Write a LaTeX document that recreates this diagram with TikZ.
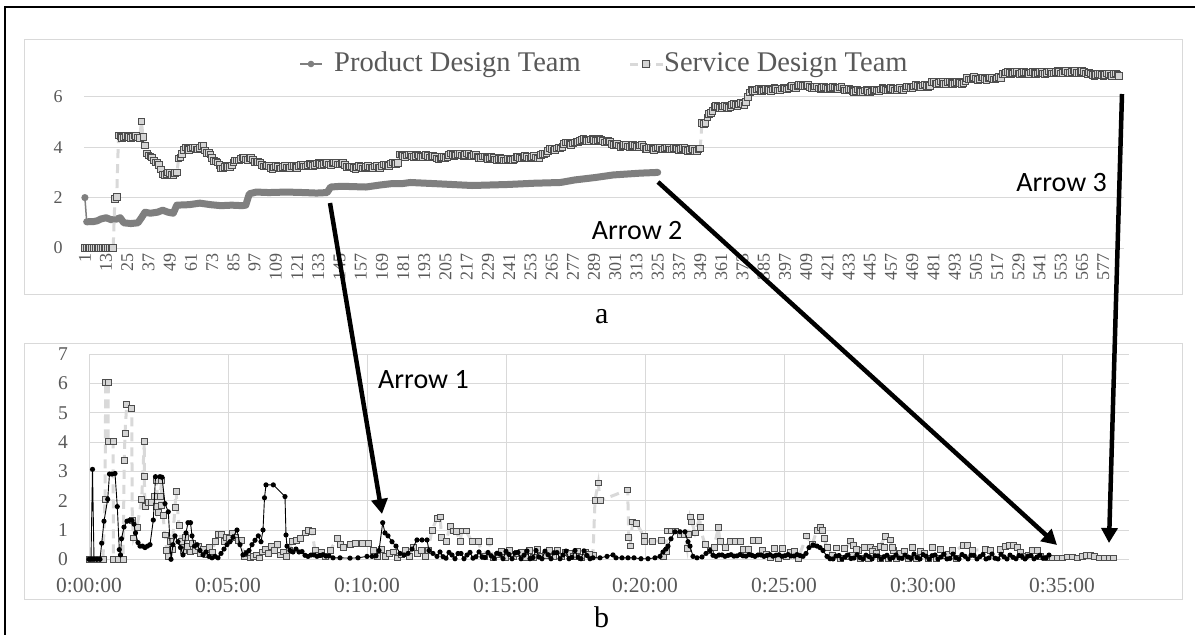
\documentclass[tikz,border=0pt]{standalone}
\usepackage{fontspec}
\setmainfont{Liberation Serif}
\newfontfamily\arrfont{Carlito}
\usetikzlibrary{arrows.meta}
\definecolor{gridc}{HTML}{D9D9D9}
\definecolor{axtxt}{HTML}{595959}
\definecolor{prodc}{HTML}{7F7F7F}
\definecolor{sqfill}{HTML}{D4D4D4}
\definecolor{sqdraw}{HTML}{4D4D4D}
\definecolor{dashc}{HTML}{D9D9D9}

\def\servA{1/0,17/0,18/2,19/2,20/4.42,32/4.42,33/5.0,34/4.35,36/3.8,38/3.6,40/3.5,42/3.4,44/3.1,45/2.95,53/2.95,54/3.55,56/3.75,58/3.95,66/3.95,68/4.05,70/3.8,73/3.6,76/3.35,78/3.2,82/3.22,84/3.3,87/3.5,89/3.55,94/3.55,99/3.4,101/3.3,106/3.2,117/3.2,122/3.25,128/3.3,135/3.35,145/3.35,148/3.3,151/3.2,165/3.2,173/3.3,178/3.4,179/3.68,196/3.65,202/3.55,208/3.7,219/3.7,225/3.6,241/3.5,247/3.6,258/3.6,261/3.75,264/3.9,270/3.95,272/4.15,278/4.15,281/4.29,292/4.29,298/4.2,301/4.1,304/4.05,315/4.05,320/3.95,338/3.95,343/3.9,349/3.9,350/4.95,352/5.0,354/5.28,357/5.6,366/5.6,369/5.7,374/5.7,378/6.27,394/6.3,408/6.47,411/6.4,417/6.35,428/6.35,434/6.25,445/6.22,451/6.3,462/6.3,468/6.4,479/6.45,480/6.56,499/6.56,500/6.73,519/6.73,520/6.95,541/6.95,560/7.0,569/6.95,570/6.88,586/6.88}
\def\prodA{2/1.04,6/1.05,8/1.08,10/1.15,13/1.2,16/1.12,19/1.15,21/1.2,23/1.0,27/0.97,31/1.0,33/1.2,35/1.42,38/1.38,42/1.42,45/1.5,48/1.42,51/1.38,53/1.7,60/1.72,66/1.78,72/1.72,78/1.68,84/1.7,90/1.68,92/1.7,94/2.15,98/2.22,105/2.2,115/2.22,125/2.2,132/2.18,138/2.2,140/2.42,146/2.45,160/2.42,168/2.5,174/2.55,180/2.55,185/2.6,200/2.55,220/2.48,240/2.52,255/2.57,270/2.6,278/2.7,290/2.8,300/2.9,315/2.97,325/3.0}

\def\pBa{91/0,92.5/3.07,94/0,97/0,100/0,101.7/0.55,104/1.3,107.7/2.05,109.5/2.91,112/2.91,115/2.93,117.3/1.8,119.3/0.33,120.5/0.15,121.5/0.7,124/1.1,127/1.3,129.5/1.33,132/1.33,134/1.2,135.5/0.9,138/0.57,140/0.45,142.5/0.45,145/0.4,147.5/0.45,150/0.5,153.3/1.34,155.5/2.82,160/2.82,162/2.8,165/1.9,168.3/1.62,171/0,173/0.5,175/0.8,178/0.6,180.5/0.4,183/0.15,186/0.9,188/1.25,190.5/1.25,192/0.8,194.5/0.45,197/0.5,200/0.3,203/0.15,206/0.25,209/0.1,212/0.05,215/0.1,218/0.05,221/0.2,224/0.35,227/0.5,230/0.6,233/0.75,237/1.0,240/0.5,243/0.15,246/0.2,249/0.3,252/0.5,255/0.65,258.3/0.8,261/0.6,263/1.0,264.5/2.1,266/2.54,273.3/2.54,285/2.14,286/0.83,287/0.45,290/0.3,293/0.25,296/0.35,299/0.25}
\def\pBb{333/0.05,340/0.05,350/0.04,358/0.05,367/0.1,372/0.1,376/0.12,379/0.3,382.7/1.25,385/0.9,388/0.8,392/0.6,396/0.45,400/0.2,404/0.15,408/0.2,412/0.35,417/0.66,422/0.66,427/0.66,429/0.3,433/0.2,437/0.1}
\def\pBc{593/0.05,600/0.05,607/0.1,613/0.15,616/0.05,622/0.05,628/0.05,634/0.05,641/0.02,648/0.02,655/0.05,660/0.1,663/0.25,666/0.35,668/0.45,671/0.7,675/0.94,680/0.94,685/0.94,688/0.6,690/0.45,693/0.1,697/0.05,702/0.08,706/0.2,710/0.3}
\def\pBd{806/0.2,809/0.4,813/0.49,817/0.45,820/0.4,823/0.3,827/0.1,830/0.02}
\def\sBa{92/0,95/0,99/0,103/0,105/2.05,105.7/6.03,108.3/6.03,108/4.03,113/4.03,113.5/0,118/0,123/0,124.3/3.37,125/4.3,126.7/5.29,131.7/5.15,132.3/1.34,133.5/0.73,137/1.1,141.7/2.05,144.3/4.03,144.3/2.84,145/1.8,148/1.95,151.7/1.95,154/2.14,156/1.8,156.7/2.7,158/1.6,160/2.14,161.7/2.7,161.7/1.85,163/1.5,165/0.83,166.7/0.3,168/0.1,170/0.6,172/0.35,175/1.78,176/2.31,179/1.17,181/0.6,183/0.3,185/0.75,187/0.45,190/0.25,192/0.55,195/0.3,198/0.45,200/0.2,203/0.35,206/0.15,209/0.4,212/0.25,215/0.6,218/0.85,221/0.85,224/0.6,226/0.75,229/0.7,232/0.9,235/0.75,238/0.65,241/0.65,244/0.1,247/0.2,250/0.05,253/0.1,256/0.15,259/0.05,262/0.25,265/0.35,268/0.2,271/0.45,274/0.3,277/0.5,280/0.15,283/0.25,286/0.1,289/0.3,292/0.6,296/0.65,300/0.7,305/0.9,308/1.0,312/0.95,315/0.3,318/0.15,321/0.25,325/0.1,330/0.3,337/0.7,340/0.5,343/0.4,350/0.5,355/0.55,362/0.55,368/0.55,373/0.3,377/0.1,381/0.35,385/0.1,389/0.2,393/0.25,397/0.05,401/0.15,405/0.3,409/0.1,413/0.4,417/0.2,421/0.3,425/0.1,428/0.3,432/1.0,437/1.4,440/1.45,441.7/0.76,446/0.6,450/1.13,453/0.97,456.7/0.94,460/0.6,462/0.97,466/0.97,472/0.6,478/0.6,484/0.1,489/0.6,493/0.05}
\def\sBb{593/0.15,595/2.02,598.3/2.61,600/2.0,627.7/2.37,628.7/0.75,630/0.46,632.7/1.28,636.7/1.22,644/0.78,644/0.62,652/0.6,661.7/0.64,663/0.1,666/0.26,667/0.97,671/0.97,675/0.97,680/0.85,684/0.85,687/0.37,688/0.85,690/1.45,691.7/1.28,695/0.9,700/1.45,700/1.09,705/0.5,710/0.3,714/0.4,718.3/1.08,720/0.6,725/0.4,730/0.62,735/0.62,740/0.62,743/0.35,748/0.35,753/0.64,758/0.64,762/0.3}
\def\sBc{806.7/0.8,812/0.5,817/1.0,820/1.1,822/0.98,824/0.7,827/0.4,832/0.15}
\def\sBd{850/0.63,853/0.47,858/0.3,870/0.4,875/0.35,880/0.45,885/0.77,890/0.66,893/0.3}
\def\sBe{963/0.48,967/0.48,972/0.3,985/0.35,990/0.3,1000/0.35,1005/0.45,1009/0.48,1013/0.48,1017/0.4,1020/0.25,1024/0.1,1028/0.15,1032/0.3,1037/0.3,1040/0.1,1047/0.05,1052/0.05,1057/0.05,1062/0.05,1067/0.08,1072/0.08,1077/0.05,1082/0.1,1086/0.12,1090/0.12,1094/0.1,1099/0.05,1104/0.05,1109/0.05,1113/0.05}

\newcommand\dashser[3]{\draw[dashB] (#2,{559.3-29.3*#3}) foreach \x/\v in #1 { -- (\x,{559.3-29.3*\v}) };}
\newcommand\sqser[1]{\foreach \x/\v in #1 {\pgfmathsetmacro\yy{559.3-29.3*\v}\path[sqB] (\x-2.9,\yy-2.9) rectangle (\x+2.9,\yy+2.9);}}
\newcommand\dotser[1]{\foreach \x/\v in #1 {\fill (\x,{559.3-29.3*\v}) circle (2.6);}}

\begin{document}
\begin{tikzpicture}[x=1pt,y=-1pt,
  declare function={nzp(\x)=max(0.02,0.13+0.1*sin(37*mod(\x,97))+0.07*sin(83*mod(\x,101)+40));
                    nzs(\x)=max(0.03,0.18+0.14*sin(53*mod(\x,89))+0.1*sin(127*mod(\x,79)+20));},
  gridl/.style={gridc,line width=1},
  sqA/.style={fill=sqfill,draw=sqdraw,line width=0.8},
  sqB/.style={fill=sqfill,draw=sqdraw,line width=0.8},
  dashB/.style={dashc,line width=3,dash pattern=on 9pt off 6pt},
  prodband/.style={prodc,line width=7,line join=round,line cap=round},
  pline/.style={black,line width=0.9,line join=round},
  axA/.style={font=\fontsize{18}{18}\selectfont,text=axtxt,inner sep=0},
  axB/.style={font=\fontsize{19.5}{19.5}\selectfont,text=axtxt,inner sep=0},
  axT/.style={font=\fontsize{21.5}{21.5}\selectfont,text=axtxt,inner sep=0},
  legtxt/.style={font=\fontsize{28.5}{28.5}\selectfont,text=axtxt,inner sep=0,anchor=west},
  captxt/.style={font=\fontsize{30}{30}\selectfont,inner sep=0},
  arrlab/.style={font=\arrfont\fontsize{28}{28}\selectfont,inner sep=0},
  bigarrow/.style={line width=4.5,-{Triangle[length=15pt,width=16pt]}}]
\useasboundingbox (0,0) rectangle (1195,635);
\fill[white] (0,0) rectangle (1195,635);
\draw[line width=1.3] (5,635) -- (5,7) -- (1195,7);

% ---------- chart a ----------
\draw[gridl] (24,39) rectangle (1182,294);
\foreach \v in {0,2,4,6} {
  \draw[gridl] (84,{248-25.2*\v}) -- (1124,{248-25.2*\v});
  \node[axA] (ya\v) at (58,{248-25.2*\v}) {\v};
}
\foreach \k in {0,...,48} {
  \pgfmathtruncatemacro\lab{1+12*\k}
  \node[axA,rotate=90,anchor=east] (xa\k) at ({84+(\lab-0.5)*1.768},253) {\lab};
}
% legend
\draw[prodc,line width=1.5] (300,64) -- (322,64);
\fill[prodc] (311,64) circle (3.3);
\node[legtxt] (lg1) at (334,65) {Product Design Team};
\draw[dashc,line width=3,dash pattern=on 8pt off 5pt] (630,64) -- (663,64);
\path[sqA] (642.7,60.7) rectangle (649.3,67.3);
\node[legtxt] (lg2) at (664,65) {Service Design Team};
% product a
\draw[prodc,line width=1.5] (84.9,197.6) -- (86.7,221.8);
\fill[prodc] (84.9,197.6) circle (3.6);
\draw[prodband] (86.7,221.8) foreach \i/\v in \prodA { -- ({84+(\i-0.5)*1.768},{248-25.2*\v}) };
% service a
\draw[dashB] (84.9,248) foreach \i/\v in \servA { -- ({84+(\i-0.5)*1.768},{248-25.2*\v}) };
\foreach \i/\v [remember=\i as \ip (initially 0), remember=\v as \vp (initially 0)] in \servA {
  \pgfmathtruncatemacro\ia{\ip+1}
  \foreach \k in {\ia,...,\i} {
    \pgfmathsetmacro\vk{\vp+(\v-\vp)*(\k-\ip)/max(1,\i-\ip)}
    \pgfmathsetmacro\yy{248-25.2*(\vk+(\vk>1)*0.05*sin(77*mod(\k,47)))}
    \pgfmathsetmacro\xx{84+(\k-0.5)*1.768}
    \path[sqA] (\xx-3.3,\yy-3.3) rectangle (\xx+3.3,\yy+3.3);
  }
}
\node[captxt] (capa) at (601.7,317) {a};

% ---------- chart b ----------
\draw[gridl] (24,343.3) rectangle (1182,599);
\foreach \v in {0,...,7} {
  \draw[gridl] (89,{559.3-29.3*\v}) -- (1129,{559.3-29.3*\v});
  \node[axB] (yb\v) at (63,{559.3-29.3*\v}) {\v};
}
\foreach \k/\t in {0/0:00:00,1/0:05:00,2/0:10:00,3/0:15:00,4/0:20:00,5/0:25:00,6/0:30:00,7/0:35:00} {
  \draw[gridl] ({89+139*\k},354.3) -- ({89+139*\k},559.3);
  \node[axT] (tb\k) at ({89+139*\k},585) {\t};
}
\dashser{\sBa}{89}{0}
\dashser{\sBb}{590}{0.1}
\dashser{\sBc}{800}{0.2}
\dashser{\sBd}{846}{0.35}
\dashser{\sBe}{958}{0.35}
\sqser{\sBa}
\sqser{\sBb}
\sqser{\sBc}
\sqser{\sBd}
\sqser{\sBe}
\foreach \x in {89,497,501,...,589,766,770,...,798,836,840,...,956} {
  \pgfmathsetmacro\yy{559.3-29.3*nzs(\x)*(\x>90)}
  \path[sqB] (\x-2.9,\yy-2.9) rectangle (\x+2.9,\yy+2.9);
}
\draw[pline] (89,559.3)
  foreach \x/\v in \pBa { -- (\x,{559.3-29.3*\v}) }
  foreach \x in {302,305,...,330} { -- (\x,{559.3-29.3*nzp(\x)}) }
  foreach \x/\v in \pBb { -- (\x,{559.3-29.3*\v}) }
  foreach \x in {440,443,...,590} { -- (\x,{559.3-29.3*nzp(\x)}) }
  foreach \x/\v in \pBc { -- (\x,{559.3-29.3*\v}) }
  foreach \x in {713,716,...,803} { -- (\x,{559.3-29.3*nzp(\x)}) }
  foreach \x/\v in \pBd { -- (\x,{559.3-29.3*\v}) }
  foreach \x in {833,836,...,1050} { -- (\x,{559.3-29.3*0.6*nzp(\x)}) };
\dotser{\pBa}
\dotser{\pBb}
\dotser{\pBc}
\dotser{\pBd}
\fill (89,559.3) circle (2.6);
\foreach \x in {302,305,...,330,440,443,...,590,713,716,...,803} { \fill (\x,{559.3-29.3*nzp(\x)}) circle (2.6); }
\foreach \x in {833,836,...,1050} { \fill (\x,{559.3-29.3*0.6*nzp(\x)}) circle (2.6); }
\node[captxt] (capb) at (601.7,617) {b};

% ---------- arrows ----------
\node[arrlab,anchor=west] (lab1) at (378,380) {Arrow 1};
\node[arrlab,anchor=west] (lab2) at (591.7,231) {Arrow 2};
\node[arrlab,anchor=east] (lab3) at (1107,183) {Arrow 3};
\coordinate (a1s) at (330,203); \coordinate (a1e) at (382,514);
\coordinate (a2s) at (658,182); \coordinate (a2e) at (1057,545);
\coordinate (a3s) at (1122,94); \coordinate (a3e) at (1109,543);
\draw[bigarrow] (a1s) -- (a1e);
\draw[bigarrow] (a2s) -- (a2e);
\draw[bigarrow] (a3s) -- (a3e);
\end{tikzpicture}
\end{document}
